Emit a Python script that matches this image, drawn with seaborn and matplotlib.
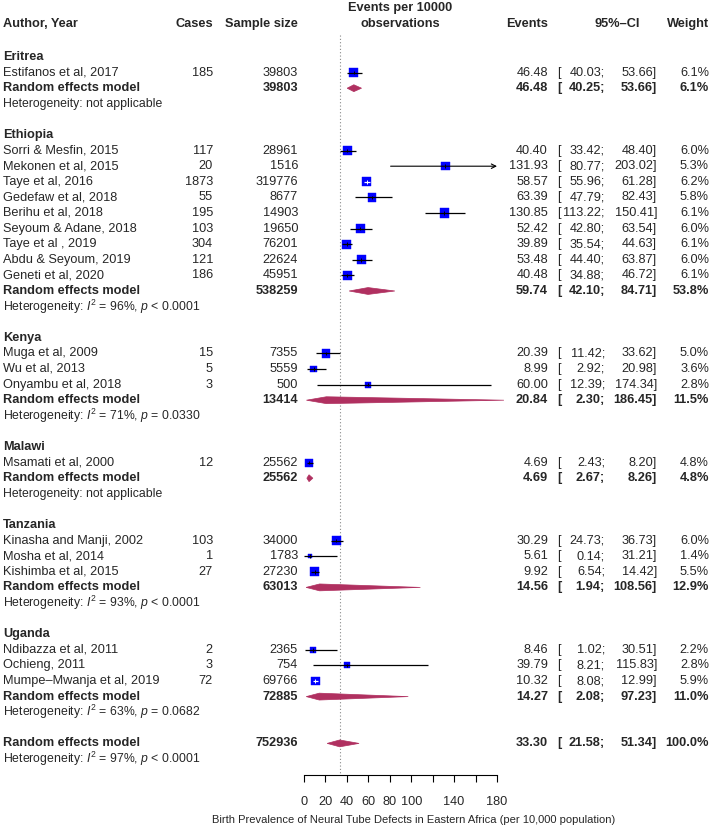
"""Forest plot: birth prevalence of neural tube defects in Eastern Africa."""
import matplotlib.pyplot as plt
import numpy as np
import pandas as pd
import seaborn as sns
from matplotlib import transforms
from matplotlib.patches import Polygon

# ---- study level data -------------------------------------------------------
authors = [
    "Estifanos et al, 2017",
    "Sorri & Mesfin, 2015", "Mekonen et al, 2015", "Taye et al, 2016",
    "Gedefaw et al, 2018", "Berihu et al, 2018", "Seyoum & Adane, 2018",
    "Taye et al , 2019", "Abdu & Seyoum, 2019", "Geneti et al, 2020",
    "Muga et al, 2009", "Wu et al, 2013", "Onyambu et al, 2018",
    "Msamati et al, 2000",
    "Kinasha and Manji, 2002", "Mosha et al, 2014", "Kishimba et al, 2015",
    "Ndibazza et al, 2011", "Ochieng, 2011", "Mumpe\u2013Mwanja et al, 2019",
]
country = (["Eritrea"] + ["Ethiopia"] * 9 + ["Kenya"] * 3 + ["Malawi"]
           + ["Tanzania"] * 3 + ["Uganda"] * 3)
cases = [185, 117, 20, 1873, 55, 195, 103, 304, 121, 186,
         15, 5, 3, 12, 103, 1, 27, 2, 3, 72]
sample_size = [39803, 28961, 1516, 319776, 8677, 14903, 19650, 76201, 22624, 45951,
               7355, 5559, 500, 25562, 34000, 1783, 27230, 2365, 754, 69766]
events = [46.48, 40.40, 131.93, 58.57, 63.39, 130.85, 52.42, 39.89, 53.48, 40.48,
          20.39, 8.99, 60.00, 4.69, 30.29, 5.61, 9.92, 8.46, 39.79, 10.32]
ci_lower = [40.03, 33.42, 80.77, 55.96, 47.79, 113.22, 42.80, 35.54, 44.40, 34.88,
            11.42, 2.92, 12.39, 2.43, 24.73, 0.14, 6.54, 1.02, 8.21, 8.08]
ci_upper = [53.66, 48.40, 203.02, 61.28, 82.43, 150.41, 63.54, 44.63, 63.87, 46.72,
            33.62, 20.98, 174.34, 8.20, 36.73, 31.21, 14.42, 30.51, 115.83, 12.99]
weight = [6.1, 6.0, 5.3, 6.2, 5.8, 6.1, 6.0, 6.1, 6.0, 6.1,
          5.0, 3.6, 2.8, 4.8, 6.0, 1.4, 5.5, 2.2, 2.8, 5.9]

# ---- subgroup random effects ------------------------------------------------
regions = ["Eritrea", "Ethiopia", "Kenya", "Malawi", "Tanzania", "Uganda"]
re_sample = [39803, 538259, 13414, 25562, 63013, 72885]
re_events = [46.48, 59.74, 20.84, 4.69, 14.56, 14.27]
re_lower = [40.25, 42.10, 2.30, 2.67, 1.94, 2.08]
re_upper = [53.66, 84.71, 186.45, 8.26, 108.56, 97.23]
re_weight = [6.1, 53.8, 11.5, 4.8, 12.9, 11.0]
re_i2 = [None, "96%", "71%", None, "93%", "63%"]
re_p = [None, "< 0.0001", "= 0.0330", None, "< 0.0001", "= 0.0682"]

# ---- overall ----------------------------------------------------------------
all_sample = 752936
all_events, all_lower, all_upper = 33.30, 21.58, 51.34
all_i2, all_p = "97%", "< 0.0001"

x_ticks = [0, 20, 40, 60, 80, 100, 120, 140, 160, 180]
x_tick_labels = ["0", "20", "40", "60", "80", "100", "", "140", "", "180"]
x_label = "Birth Prevalence of Neural Tube Defects in Eastern Africa (per 10,000 population)"

sns.set_theme(style="white")
plt.rcParams["font.family"] = ["Liberation Sans", "DejaVu Sans"]
plt.rcParams["mathtext.fontset"] = "custom"
plt.rcParams["mathtext.rm"] = "Liberation Sans"
plt.rcParams["mathtext.it"] = "Liberation Sans:italic"

W, H = 712, 830
ROW0, ROWH = 57, 15.6          # pixel y of first row, row height
FS = 9.2
FS_HET = 8.8
FS_XLAB = 8.0
SQUARE = "#0000FF"
DIAMOND = "#B03060"

fig = plt.figure(figsize=(W / 100, H / 100), dpi=100)
ax = fig.add_axes([304 / W, 0, 193 / W, 1])
tr = transforms.blended_transform_factory(fig.transFigure, ax.transData)


def px_row(py):
    return (py - ROW0) / ROWH


def txt(px, row, s, ha="left", bold=False, size=FS):
    ax.text(px / W, row, s, transform=tr, ha=ha, va="center", fontsize=size,
            fontweight="bold" if bold else "normal", clip_on=False)


def ci_text(row, est, lo, hi, w, bold=False):
    txt(548, row, f"{est:.2f}", ha="right", bold=bold)
    txt(557, row, "[", bold=bold)
    txt(605, row, f"{lo:.2f};", ha="right", bold=bold)
    txt(657, row, f"{hi:.2f}]", ha="right", bold=bold)
    txt(709, row, f"{w:.1f}%", ha="right", bold=bold)


def het_text(row, i2, p):
    if i2 is None:
        s = "Heterogeneity: not applicable"
    else:
        s = f"Heterogeneity: $I^2$ = {i2}, $p$ {p}"
    txt(3, row, s, size=FS_HET)


def diamond(row, est, lo, hi):
    h = 0.22
    ax.add_patch(Polygon([(lo, row), (est, row - h), (hi, row), (est, row + h)],
                         closed=True, facecolor=DIAMOND, edgecolor=DIAMOND,
                         lw=0.5, clip_on=False, zorder=3))


# header
for px, s, ha in [(3, "Author, Year", "left"), (213, "Cases", "right"),
                  (298, "Sample size", "right"), (548, "Events", "right"),
                  (640, "95%\u2013CI", "right"), (709, "Weight", "right")]:
    txt(px, px_row(24), s, ha=ha, bold=True)
txt(400, px_row(8), "Events per 10000", ha="center", bold=True)
txt(400, px_row(24), "observations", ha="center", bold=True)

# assign rows
study_row = [0.0] * len(authors)
row = 0
for g, reg in enumerate(regions):
    txt(3, row, reg, bold=True)
    row += 1
    for i, c in enumerate(country):
        if c == reg:
            study_row[i] = row
            txt(3, row, authors[i])
            txt(213, row, f"{cases[i]}", ha="right")
            txt(298, row, f"{sample_size[i]}", ha="right")
            ci_text(row, events[i], ci_lower[i], ci_upper[i], weight[i])
            row += 1
    txt(3, row, "Random effects model", bold=True)
    txt(298, row, f"{re_sample[g]}", ha="right", bold=True)
    ci_text(row, re_events[g], re_lower[g], re_upper[g], re_weight[g], bold=True)
    diamond(row, re_events[g], re_lower[g], re_upper[g])
    row += 1
    het_text(row, re_i2[g], re_p[g])
    row += 2

txt(3, row, "Random effects model", bold=True)
txt(298, row, f"{all_sample}", ha="right", bold=True)
ci_text(row, all_events, all_lower, all_upper, 100.0, bold=True)
diamond(row, all_events, all_lower, all_upper)
het_text(row + 1, all_i2, all_p)

# squares (area proportional to weight)
df = pd.DataFrame({"events": events, "row": study_row, "weight": weight})
wmax = max(weight)
sns.scatterplot(data=df, x="events", y="row", size="weight",
                sizes=(0, 7.0 * wmax), size_norm=(0, wmax), marker="s",
                color=SQUARE, edgecolor=SQUARE, linewidth=0.3, legend=False,
                ax=ax, clip_on=False, zorder=2)

# confidence intervals
units_per_px = 180 / 193
for i in range(len(authors)):
    lo, hi, r = ci_lower[i], ci_upper[i], study_row[i]
    side = 9 * np.sqrt(weight[i] / 6.1) * units_per_px
    col = "white" if hi - lo < 0.65 * side else "black"
    if hi > 180:
        ax.annotate("", xy=(180, r), xytext=(lo, r),
                    arrowprops=dict(arrowstyle="->", color="black", lw=0.8,
                                    shrinkA=0, shrinkB=0, mutation_scale=8),
                    zorder=4)
    else:
        ax.hlines(r, lo, hi, color=col, lw=0.9, zorder=4, clip_on=False)
    ax.vlines(events[i], r - 0.12, r + 0.12, color=col, lw=0.7, zorder=4)

axis_row = px_row(775)
ax.vlines(all_events, px_row(35), axis_row, color="#888888", lw=0.8,
          linestyles=(0, (1, 2)), zorder=1)

ax.set_xlim(0, 180)
ax.set_ylim(px_row(H), px_row(0))
ax.set_facecolor("none")
for side in ["top", "left", "right"]:
    ax.spines[side].set_visible(False)
ax.spines["bottom"].set_position(("data", axis_row))
ax.spines["bottom"].set_bounds(0, 180)
ax.spines["bottom"].set_color("black")
ax.spines["bottom"].set_linewidth(0.8)
ax.set_xticks(x_ticks)
ax.set_xticklabels(x_tick_labels)
ax.set_yticks([])
ax.tick_params(axis="x", bottom=True, direction="out", length=5, width=0.8,
               color="black", pad=10, labelsize=FS)
ax.set_xlabel("")
ax.set_ylabel("")

txt(414, px_row(820), x_label, ha="center", size=FS_XLAB)

fig.savefig("out.png", dpi=100)
